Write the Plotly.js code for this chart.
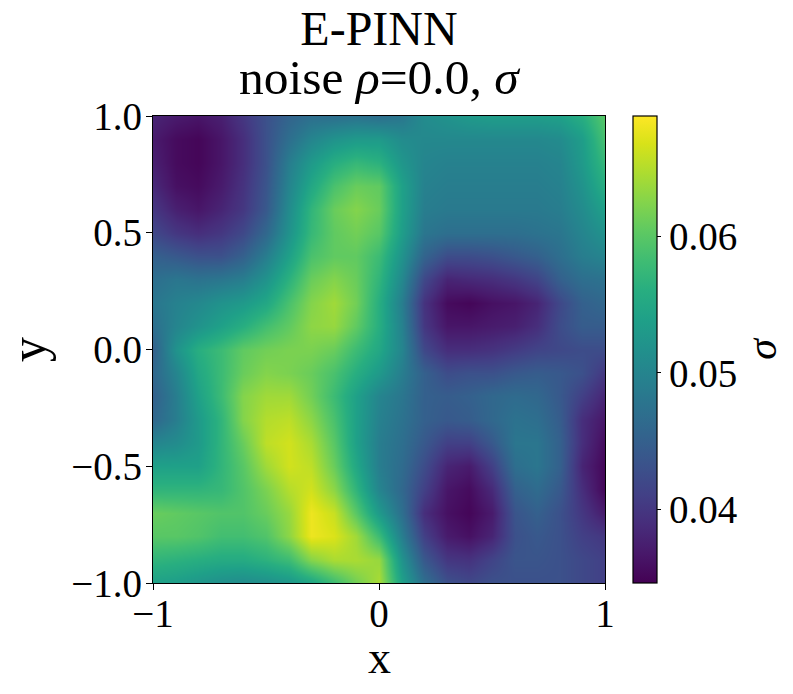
<!DOCTYPE html>
<html><head><meta charset="utf-8">
<script src="https://cdn.plot.ly/plotly-3.0.1.min.js"></script>
<style>html,body{margin:0;padding:0;background:#fff}</style></head>
<body><div id="chart" style="width:793px;height:694px"></div>
<script>
const xValues=[-1,-0.9,-0.8,-0.7,-0.6,-0.5,-0.4,-0.3,-0.2,-0.1,0,0.1,0.2,0.3,0.4,0.5,0.6,0.7,0.8,0.9,1];
const yValues=[1,0.9,0.8,0.7,0.6,0.5,0.4,0.3,0.2,0.1,0,-0.1,-0.2,-0.3,-0.4,-0.5,-0.6,-0.7,-0.8,-0.9,-1];
// sigma x 1000, one row per y value
const sigmaMilli=[
[38,37,36.5,37.5,40,43,45.5,47,47,47.5,47,48,51,52,53,53.5,53.5,53.5,54,56,60],
[37,35.5,35,36.5,39,43,47,50,52,53,53,51,50.5,50.5,50.5,50.5,50.5,50.5,51,53.5,59],
[37.5,35.5,35,36.5,39,43,49,53,56,57.5,56.5,52.5,50,49.5,49.5,49.5,49.5,49.5,50,53,57.5],
[38.5,36,35.5,37,39.5,43.5,50,55,59,61,60.5,54,49.5,49,49,49,49,49,49.5,52,56],
[40,37.5,36.5,38,40,44,51,57,61,62.5,61,54,49,48.5,48.5,48.5,48.5,48.5,49,51,54],
[42,40,39,40,42,46,52,57.5,60.5,61.5,60,53.5,48,47,47,47,47,47.5,48,50,52],
[45,44,43,43,45,49,54,59,60.5,60.5,58,52,45.5,42.5,42.5,43,44,45,47,49,50],
[47,48,47.5,48,49,52,56.5,61,62.5,61,57,50.5,42,38,38.5,39,40,41.5,45,47,47.5],
[48,49.5,50.5,52,53,55,59,62.5,64,61.5,56,49,39.5,35.5,35,36,36.5,38,42,45,46],
[47,50,52,54,56,58.5,60.5,63,63.5,60.5,56,49.5,40,36.5,36.5,37,37.5,39,42.5,44.5,44.5],
[45,52,56,58,60.5,61.5,62,62,61,58,55,50,42,39,39,39.5,40.5,41.5,42,42.5,42.5],
[46,50,55,58,61,62.5,62,61,59,56,53,49,45,42.5,43,43,44,44.5,44,43,40],
[45,49,54,58,62.5,64,64,61.5,58,54,50,48,45,44.5,45,46,46.5,46,44,41,38],
[46,49,53,57,62.5,65,65.5,63,59,54,49.5,47.5,45,44,44.5,46,47.5,47,44.5,39,36.5],
[50,51,53,57,61,65.5,66.5,64.5,60,54,49,47,44,41,41,44,48,48,45,39,35.5],
[54,54,54,57,60,64,66.5,65.5,61,55,49,46.5,42.5,38,37,41,47,48,45,38,35],
[57,57,57,57.5,59.5,62,65,66.5,63,57,50,46,41,36.5,35.5,38.5,45,46.5,44,39,35],
[61,60.5,60,59.5,59.5,61,63.5,68,66,60,53,47,39,36,35,37,43.5,45,43,40,37],
[60,60,59.5,58.5,58.5,59.5,63,68,67,64,58,49,41,37,36,38,43,44,43,41,40],
[57,56.5,56,55.5,55.5,56.5,58,62.5,64.5,64.5,63.5,52,44,40,39.5,41.5,43.5,43.5,43,42,41],
[54,53.5,52.5,51.5,51,51.5,52.5,54.5,58,61.5,64.5,54,47,43,42,43,43,43,43,42,41]
];
const sigmaValues=sigmaMilli.map(r=>r.map(v=>v/1000));
const xTicks=[-1,0,1], xTickLabels=['\u22121','0','1'];
const yTicks=[-1,-0.5,0,0.5,1], yTickLabels=['\u22121.0','\u22120.5','0.0','0.5','1.0'];
const cbTicks=[0.04,0.05,0.06], cbTickLabels=['0.04','0.05','0.06'];
const serif='"Liberation Serif", serif';
const trace={type:'heatmap',x:xValues,y:yValues,z:sigmaValues,colorscale:'Viridis',zmin:0.03457,zmax:0.06886,zsmooth:'best',
 colorbar:{x:480.5/452,xanchor:'left',xpad:0,y:0.5,yanchor:'middle',ypad:0,len:1,lenmode:'fraction',thickness:24,thicknessmode:'pixels',
  outlinecolor:'#000',outlinewidth:1.2,tickmode:'array',tickvals:cbTicks,ticktext:cbTickLabels,ticks:'outside',ticklen:4,tickwidth:1.2,tickcolor:'#000',
  tickfont:{family:serif,size:39,color:'#000'},title:{text:'<i>σ</i>',side:'right',font:{family:serif,size:42,color:'#000'}}}};
const axisCommon={ticks:'outside',ticklen:6,tickwidth:1.2,tickcolor:'#000',showline:true,linecolor:'#000',linewidth:1.2,mirror:true,showgrid:false,zeroline:false,tickmode:'array',tickfont:{family:serif,size:39,color:'#000'}};
const layout={width:793,height:694,margin:{l:153,r:188,t:116,b:111,autoexpand:false},paper_bgcolor:'#fff',plot_bgcolor:'#fff',showlegend:false,
 title:{text:'E-PINN',font:{family:serif,size:48,color:'#000'},x:379/793,xanchor:'center',y:0.935,yanchor:'bottom'},
 annotations:[
  {text:'noise <i>ρ</i>=0.0, <i>σ</i>',xref:'paper',yref:'paper',x:0.5,y:1.02,xanchor:'center',yanchor:'bottom',showarrow:false,font:{family:serif,size:49.5,color:'#000'}},
  {text:'x',xref:'paper',yref:'paper',x:0.5,y:-0.16,xanchor:'center',yanchor:'middle',showarrow:false,font:{family:serif,size:46,color:'#000'}}],
 xaxis:Object.assign({},axisCommon,{range:[-1,1],tickvals:xTicks,ticktext:xTickLabels,ticklabelstandoff:-10}),
 yaxis:Object.assign({},axisCommon,{range:[-1,1],tickvals:yTicks,ticktext:yTickLabels,ticklabelstandoff:-4,title:{text:'y',font:{family:serif,size:50,color:'#000'}}})};
Plotly.newPlot('chart',[trace],layout,{displayModeBar:false,responsive:false});
</script></body></html>
